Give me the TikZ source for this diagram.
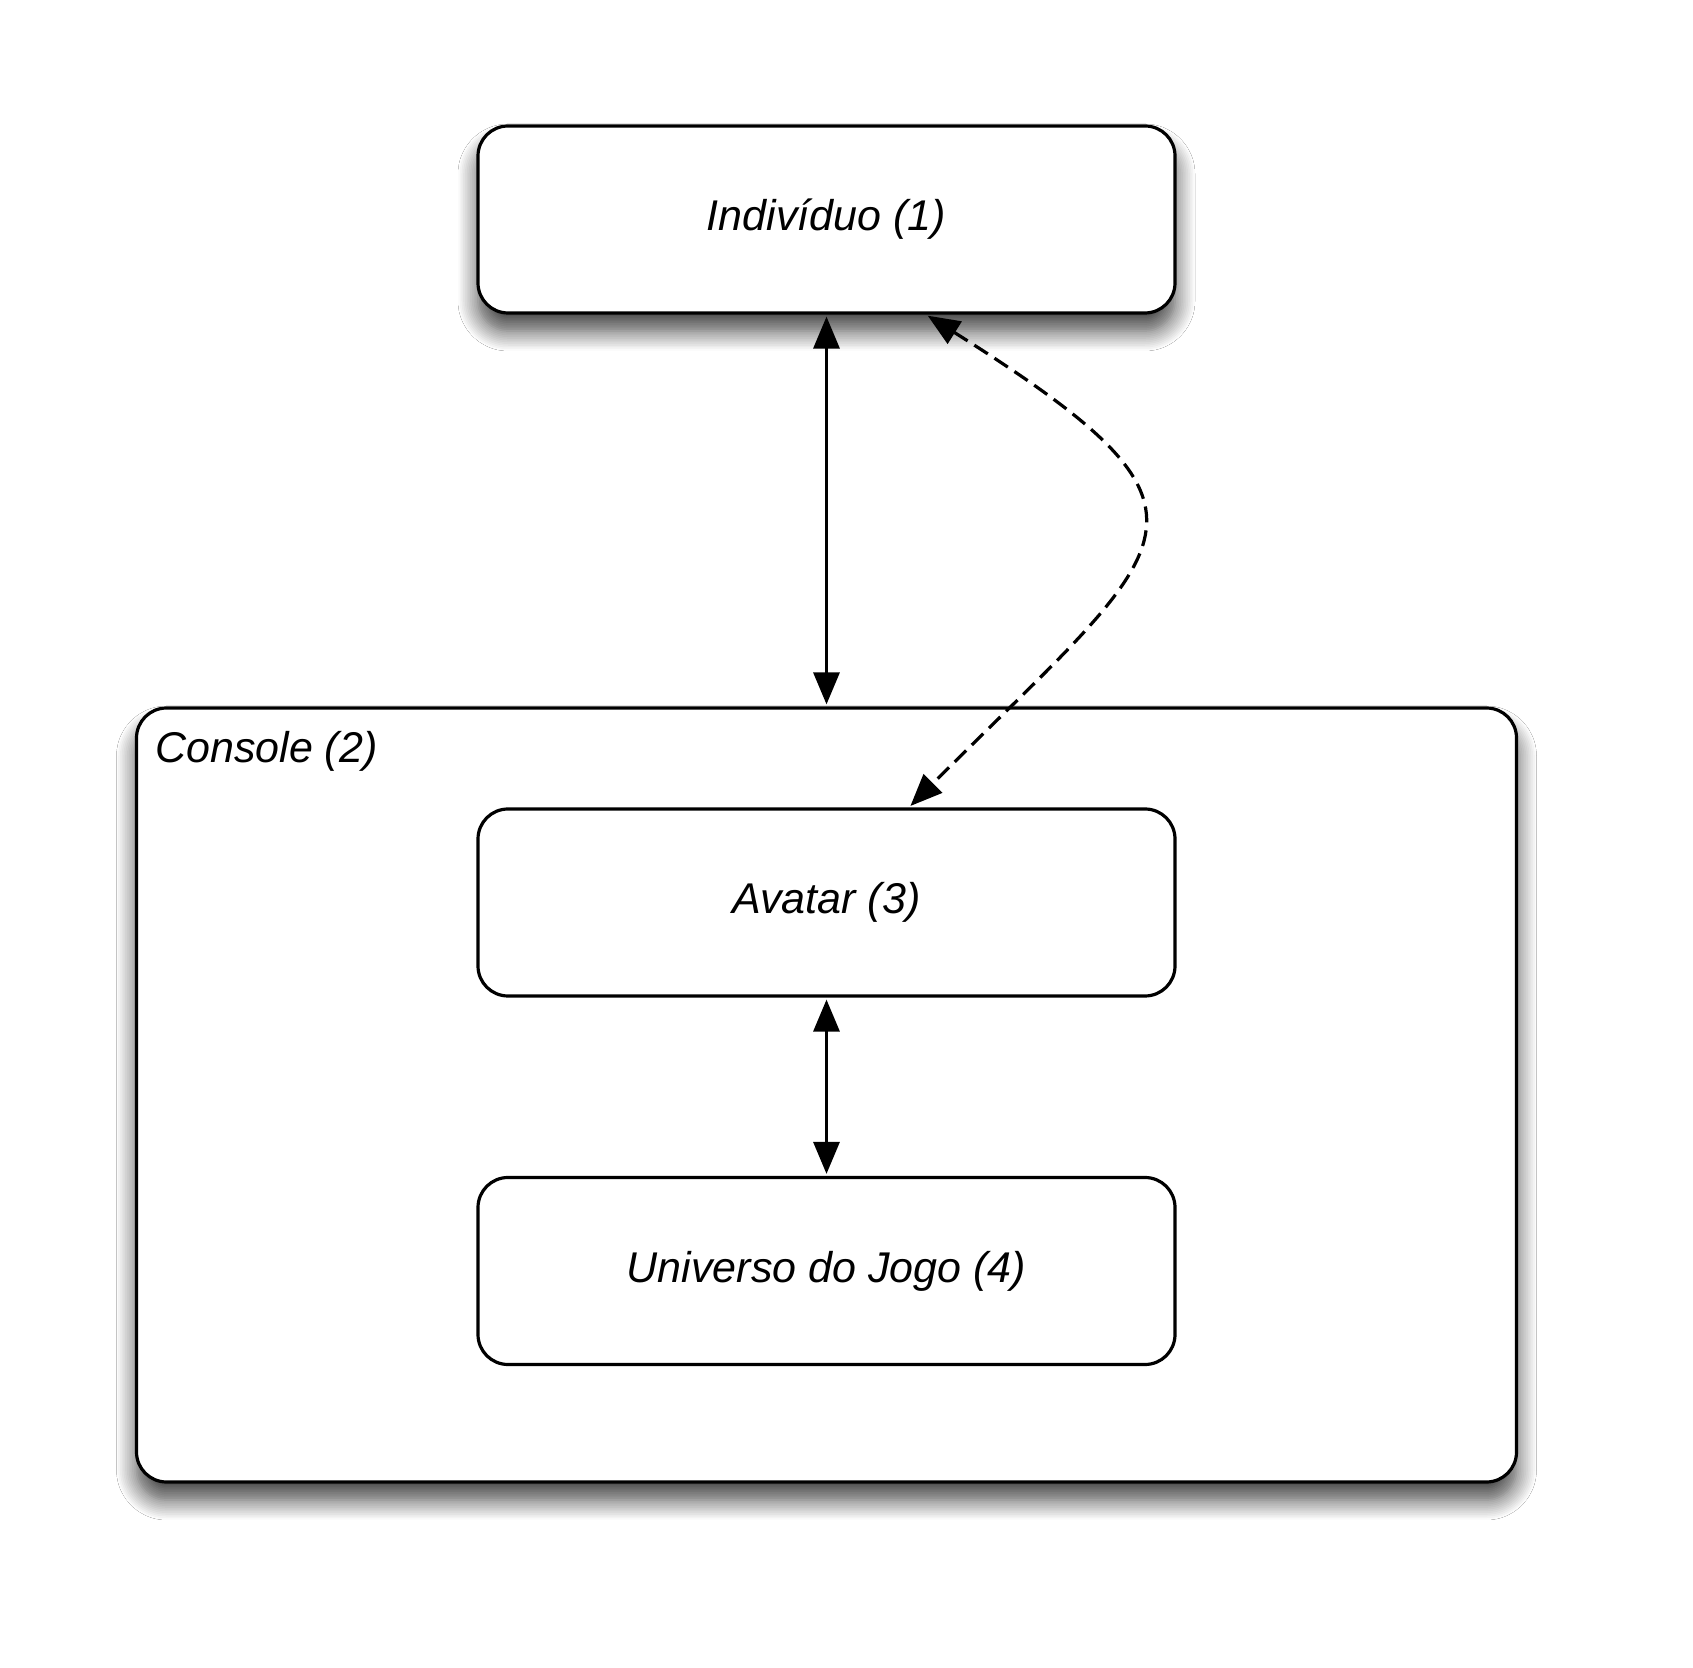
\documentclass[tikz,border=0pt]{standalone}
\usepackage{fontspec}
\setmainfont{Liberation Sans}
\usetikzlibrary{positioning,arrows.meta,shadows.blur}

\tikzset{
  caixa/.style={draw, line width=1.6pt, rounded corners=15pt, fill=white,
    minimum width=348.5pt, minimum height=93.5pt, inner sep=0pt,
    font=\fontsize{21.5}{26}\selectfont\itshape},
  sombra/.style={blur shadow={shadow xshift=0pt, shadow yshift=-9pt,
    shadow blur radius=10pt, shadow blur steps=12, shadow opacity=75}},
  liga/.style={line width=1.6pt,
    {Triangle[length=16pt,width=13pt]}-{Triangle[length=16pt,width=13pt]},
    shorten <=1pt, shorten >=1pt},
  tracejado/.style={liga, dash pattern=on 8pt off 4pt}
}

\begin{document}
\begin{tikzpicture}[x=0.5pt,y=0.5pt,on grid]
  \fill[white] (0,0) rectangle (1693,1667);
  \useasboundingbox (0,0) rectangle (1693,1667);

  \node[caixa,sombra] (indiv) at (826.5,1447.5) {Indivíduo (1)};
  \node[caixa,sombra,minimum width=690pt,minimum height=387pt] (console)
    [below=437.75pt of indiv] {};
  \node[anchor=base west,inner sep=0pt,font=\fontsize{21.5}{26}\selectfont\itshape] (consolelbl)
    at ([xshift=10pt,yshift=-28pt]console.north west) {Console (2)};
  \node[caixa] (avatar) [below=341.5pt of indiv] {Avatar (3)};
  \node[caixa] (universo) [below=184.25pt of avatar] {Universo do Jogo (4)};

  % ligacoes
  \draw[liga] (indiv.south) -- (console.north);
  \draw[liga] (avatar.south) -- (universo.north);
  \draw[tracejado] ([xshift=49.75pt]indiv.south)
    .. controls +(321.5,-202.5) and +(268.7,268.7) .. ([xshift=41.25pt]avatar.north);
\end{tikzpicture}
\end{document}
